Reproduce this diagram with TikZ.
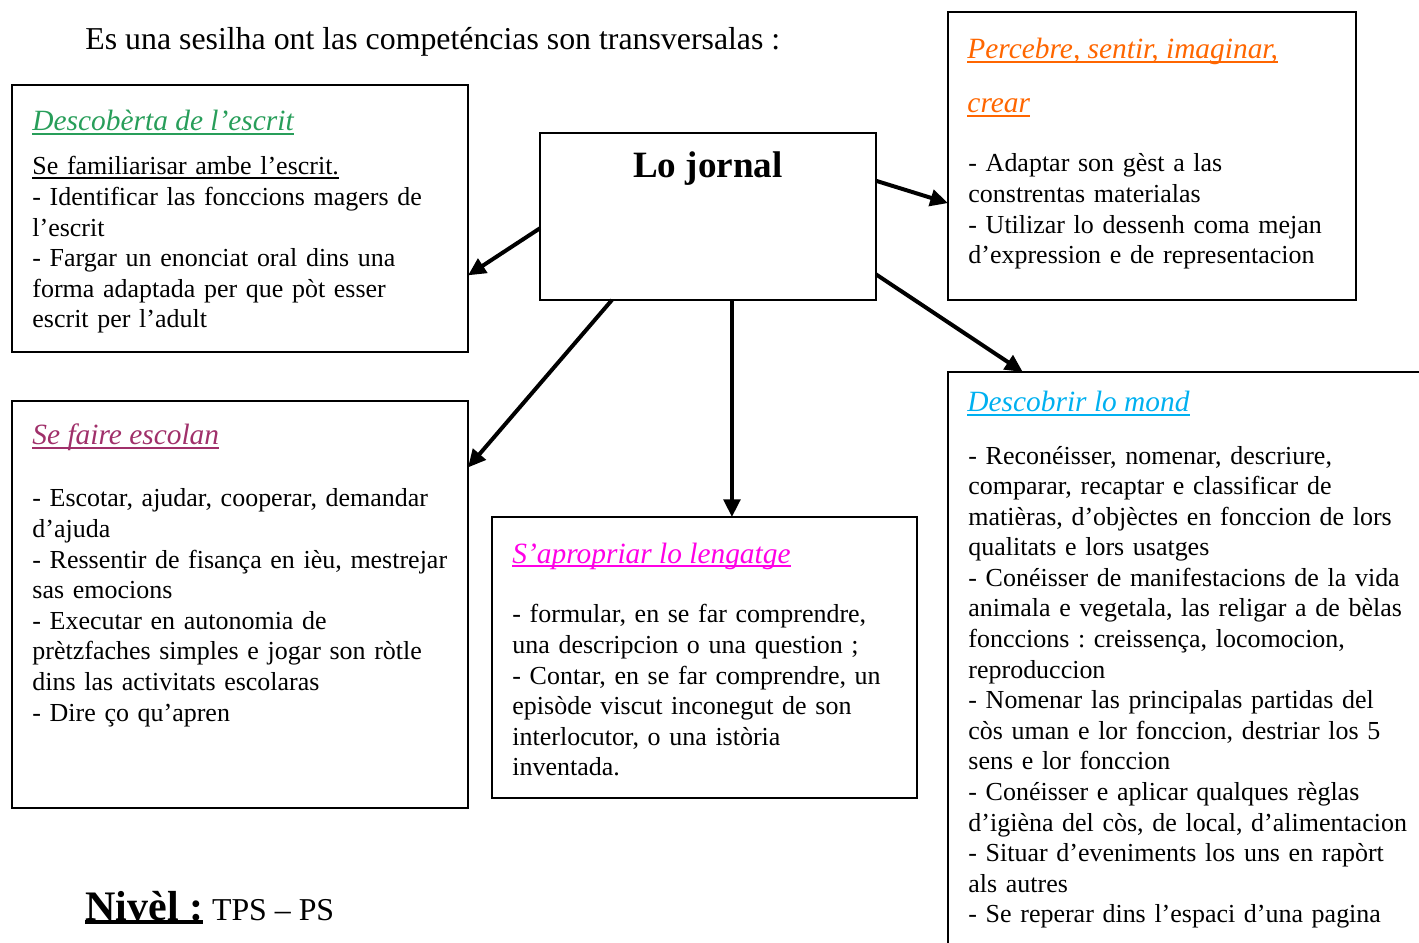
\documentclass[tikz,border=0pt]{standalone}
\usepackage{fontspec}
\setmainfont{Liberation Serif}
\usepackage{tikz}
\usetikzlibrary{positioning,arrows.meta}
\definecolor{escritgreen}{RGB}{40,158,90}
\definecolor{percebreorange}{RGB}{255,102,0}
\definecolor{escolanrose}{RGB}{160,48,106}
\definecolor{lengatgepink}{RGB}{255,0,230}
\definecolor{mondcyan}{RGB}{0,176,240}
\newcommand{\undline}[2][0.5pt]{\sbox0{#2}\rlap{\rule[-1.6pt]{\wd0}{#1}}\usebox0}
\frenchspacing

\begin{document}
\begin{tikzpicture}[x=0.4524pt,y=-0.4524pt,
    box/.style={draw, line width=0.9pt, rectangle, inner sep=0pt, outer sep=0pt},
    body/.style={anchor=base west, align=left, text width=225pt, inner sep=0pt,
      font=\fontsize{11.75}{13.84}\selectfont},
    heading/.style={anchor=base west, inner sep=0pt,
      font=\fontsize{13.3}{16}\selectfont\itshape},
    link/.style={line width=1.8pt, -{Triangle[length=8pt,width=7.5pt]}}]
  \useasboundingbox (0,0) rectangle (1419,943);
  \clip (0,0) rectangle (1419,943);

  \node [anchor=base west, inner sep=0pt, font=\fontsize{14.4}{16}\selectfont] (Intro) at (85,50)
    {Es una sesilha ont las competéncias son transversalas :};

  \node [box, minimum width=152pt, minimum height=75.55pt] (Jornal) at (708,216.5) {};
  \node [anchor=base, inner sep=0pt, font=\fontsize{16.8}{20}\selectfont\bfseries] (JornalT) at (708,178) {Lo jornal};

  \node [box, minimum width=206.3pt, minimum height=120.8pt] (Escrit) at (240,218.5) {};
  \node [heading, text=escritgreen] (EscritT) at (32,131) {\undline{Descobèrta de l’escrit}};
  \node [body] (EscritB) at (32,175) {\undline{Se familiarisar ambe l’escrit.}\\
    - Identificar las fonccions magers de\\
    l’escrit\\
    - Fargar un enonciat oral dins una\\
    forma adaptada per que pòt esser\\
    escrit per l’adult};

  \node [box, minimum width=184.6pt, minimum height=130.3pt] (Percebre) at (1152,156) {};
  \node [heading, text=percebreorange] (PercebreT) at (967,59) {\undline{Percebre, sentir, imaginar,}};
  \node [heading, text=percebreorange] (PercebreT2) at (967,113) {\undline{crear}};
  \node [body] (PercebreB) at (968,172) {- Adaptar son gèst a las\\
    constrentas materialas\\
    - Utilizar lo dessenh coma mejan\\
    d’expression e de representacion};

  \node [box, minimum width=206.3pt, minimum height=184.1pt] (Escolan) at (240,604.5) {};
  \node [heading, text=escolanrose] (EscolanT) at (32,445) {\undline{Se faire escolan}};
  \node [body] (EscolanB) at (32,507) {- Escotar, ajudar, cooperar, demandar\\
    d’ajuda\\
    - Ressentir de fisança en ièu, mestrejar\\
    sas emocions\\
    - Executar en autonomia de\\
    prètzfaches simples e jogar son ròtle\\
    dins las activitats escolaras\\
    - Dire ço qu’apren};

  \node [box, minimum width=192.3pt, minimum height=127.1pt] (Lengatge) at (704.5,657.5) {};
  \node [heading, text=lengatgepink] (LengatgeT) at (512,563) {\undline{S’apropriar lo lengatge}};
  \node [body] (LengatgeB) at (512,623) {- formular, en se far comprendre,\\
    una descripcion o una question ;\\
    - Contar, en se far comprendre, un\\
    episòde viscut inconegut de son\\
    interlocutor, o una istòria\\
    inventada.};

  \node [box, minimum width=222.6pt, minimum height=268.3pt] (Mond) at (1194,668.5) {};
  \node [heading, text=mondcyan] (MondT) at (967,412) {\undline{Descobrir lo mond}};
  \node [body] (MondB) at (968,464) {- Reconéisser, nomenar, descriure,\\
    comparar, recaptar e classificar de\\
    matièras, d’objèctes en fonccion de lors\\
    qualitats e lors usatges\\
    - Conéisser de manifestacions de la vida\\
    animala e vegetala, las religar a de bèlas\\
    fonccions : creissença, locomocion,\\
    reproduccion\\
    - Nomenar las principalas partidas del\\
    còs uman e lor fonccion, destriar los 5\\
    sens e lor fonccion\\
    - Conéisser e aplicar qualques règlas\\
    d’igièna del còs, de local, d’alimentacion\\
    - Situar d’eveniments los uns en rapòrt\\
    als autres\\
    - Se reperar dins l’espaci d’una pagina};

  \node [anchor=base west, inner sep=0pt] (Nivel) at (85,920)
    {{\fontsize{19}{22}\selectfont\bfseries\undline[1.6pt]{Nivèl :}}\hspace{4pt}{\fontsize{14.4}{16}\selectfont TPS – PS}};

  % ligams
  \draw [link] (Jornal.184) -- (Escrit.-14);
  \draw [link] (Jornal.221) -- (Escolan.31);
  \draw [link] (Jornal.-74) -- (Jornal.-74 |- Lengatge.north);
  \draw [link] (Jornal.12.3) -- (Percebre.193.2);
  \draw [link] (Jornal.-19.8) -- (Mond.120.7);
\end{tikzpicture}
\end{document}
